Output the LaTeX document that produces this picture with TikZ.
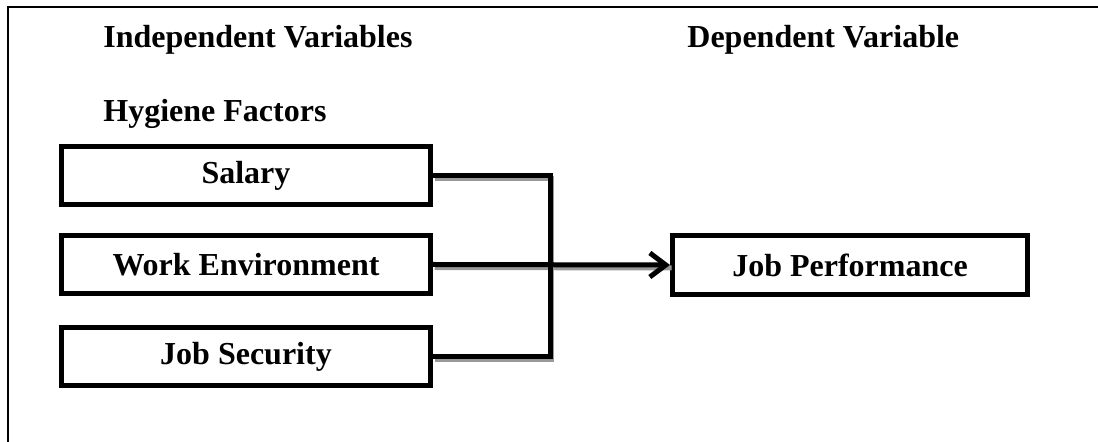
\documentclass[tikz,border=0pt]{standalone}
\usepackage{fontspec}
\setmainfont{Liberation Serif}
\usetikzlibrary{arrows.meta}
\begin{document}
\begin{tikzpicture}[x=0.5pt,y=-0.5pt,
  every node/.style={font=\fontsize{16}{19}\selectfont\bfseries},
  varbox/.style={draw=black,line width=2.5pt,fill=white,inner sep=0pt,minimum width=184.5pt,minimum height=29pt},
  outbox/.style={draw=black,line width=2.5pt,fill=white,inner sep=0pt,minimum width=177.5pt,minimum height=29.5pt},
  link/.style={draw=black,line width=2.5pt},
  linkshadow/.style={draw=black!40,line width=2.5pt},
  title/.style={anchor=base west,inner sep=0pt}]
\useasboundingbox (0,0) rectangle (1098,442);
% frame
\coordinate (fl) at (8,442);
\coordinate (fc) at (8,7);
\coordinate (fr) at (1098,7);
\draw[line width=1.2pt] (fl) -- (fc) -- (fr);
% titles
\node[title] (indep) at (103,48) {Independent Variables};
\node[title] (dep) at (687,48) {Dependent Variable};
\node[title] (hyg) at (103,122) {Hygiene Factors};
% boxes
\node[varbox] (sal) at (246,175.5) {Salary};
\node[varbox] (work) at (246,264.5) {Work Environment};
\node[varbox] (sec) at (246,357) {Job Security};
\node[outbox] (perf) at (850,265) {Job Performance};
\coordinate (bus) at (550,265);
% connector shadows
\begin{scope}[transform canvas={shift={(0.8pt,-1.5pt)}}]
\draw[linkshadow] (sal.east) -| (bus) |- (sec.east);
\draw[linkshadow] (work.east) -- (perf.west);
\end{scope}
% connectors
\draw[link,line join=miter] (sal.east) -| (bus) |- (sec.east);
\draw[link,-{Straight Barb[length=8pt,width=12pt]}] (work.east) -- (perf.west);
\end{tikzpicture}
\end{document}
